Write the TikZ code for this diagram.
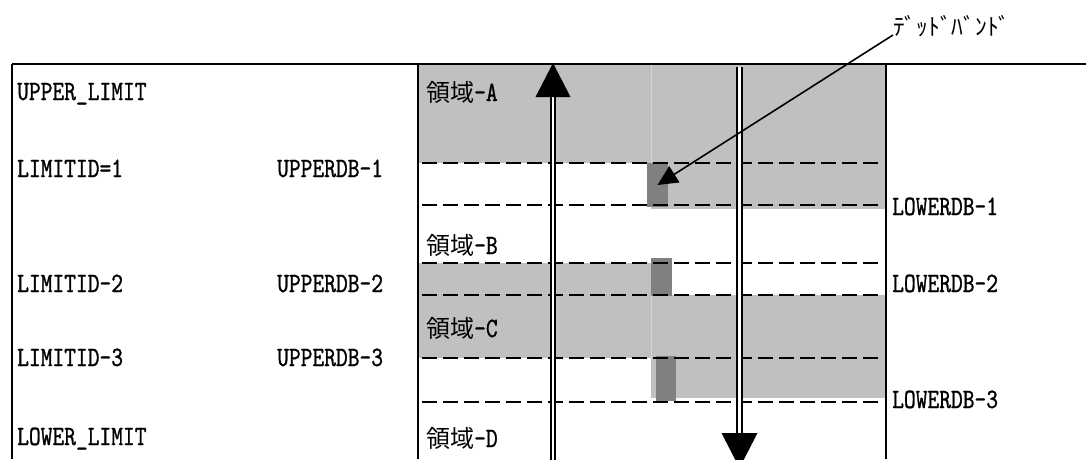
\documentclass[tikz,border=0pt]{standalone}
\usepackage{fontspec}
\usetikzlibrary{arrows.meta}
\newfontfamily\jp{Noto Sans CJK JP}
\newfontfamily\lmm{lmmono10-regular.otf}[FakeStretch=0.8,FakeBold=1]
\definecolor{areagray}{HTML}{C0C0C0}
\definecolor{dband}{HTML}{808080}
\definecolor{seam}{HTML}{D6D6D6}
\begin{document}
\begin{tikzpicture}[x=1pt,y=-1pt,
  lbl/.style={anchor=base west,inner sep=0pt,font=\lmm\fontsize{28}{30}\selectfont},
  jlbl/.style={anchor=base west,inner sep=0pt,font=\fontsize{24}{26}\selectfont},
  frame/.style={line width=1.8pt,black},
  dline/.style={line width=2pt,dash pattern=on 15pt off 6pt},
  dbl/.style={double distance=2.4pt,line width=2pt},
  dbrect/.style={fill=dband,inner sep=0pt,draw=none},
  ptr/.style={line width=1.6pt,-{Triangle[length=20pt,width=19pt]}},
  head/.style={fill=black}]
\useasboundingbox (0,0) rectangle (1086,459);
\clip (0,0) rectangle (1086,459);
% shaded regions
\fill[areagray] (418,64) rectangle (886,163);
\fill[areagray] (651,163) rectangle (886,209);
\fill[areagray] (418,263) rectangle (651,295);
\fill[areagray] (418,295) rectangle (886,358);
\fill[areagray] (651,358) rectangle (886,398);
\draw[seam,line width=0.8pt] (651,64) -- (651,163);
\draw[seam,line width=0.8pt] (651,295) -- (651,358);
% deadbands
\node[dbrect,minimum width=21pt,minimum height=44pt] (db1) at (657.5,185) {};
\node[dbrect,minimum width=21pt,minimum height=38pt] (db2) at (661.5,277) {};
\node[dbrect,minimum width=20pt,minimum height=45pt] (db3) at (666,378.5) {};
% dashed levels
\foreach \yy in {163,205,263,295,358,402}
  \draw[dline] (422,\yy) -- (883,\yy);
% frame
\draw[frame] (12,64) -- (1086,64);
\draw[frame] (12,64) -- (12,459);
\draw[frame] (418,64) -- (418,459);
\draw[frame] (886,64) -- (886,459);
% up arrow
\coordinate (upbot) at (553,462);
\coordinate (upbase) at (553,96);
\draw[dbl] (upbot) -- (upbase);
\fill[head] (553,63) -- (535.5,97) -- (570.5,97) -- cycle;
% down arrow
\coordinate (dntop) at (739.5,67);
\coordinate (dnbase) at (739.5,434);
\draw[dbl] (dntop) -- (dnbase);
\fill[head] (721.5,433) -- (757.5,433) -- (739.5,468) -- cycle;
% labels left
\node[lbl] (ul) at (17,100) {UPPER\_LIMIT};
\node[lbl] (l1) at (17,177) {LIMITID=1};
\node[lbl] (u1) at (277,177) {UPPERDB-1};
\node[lbl] (l2) at (17,292) {LIMITID-2};
\node[lbl] (u2) at (277,292) {UPPERDB-2};
\node[lbl] (l3) at (17,366) {LIMITID-3};
\node[lbl] (u3) at (277,366) {UPPERDB-3};
\node[lbl] (ll) at (17,445) {LOWER\_LIMIT};
% labels right
\node[lbl] (d1) at (892,215) {LOWERDB-1};
\node[lbl] (d2) at (892,292) {LOWERDB-2};
\node[lbl] (d3) at (892,408) {LOWERDB-3};
% regions
\node[jlbl] (ra) at (426,101) {{\jp 領域}{\lmm\fontsize{28}{30}\selectfont -A}};
\node[jlbl] (rb) at (426,254) {{\jp 領域}{\lmm\fontsize{28}{30}\selectfont -B}};
\node[jlbl] (rc) at (426,337) {{\jp 領域}{\lmm\fontsize{28}{30}\selectfont -C}};
\node[jlbl] (rd) at (426,447) {{\jp 領域}{\lmm\fontsize{28}{30}\selectfont -D}};
% dead band label and pointer
\node[jlbl,font=\jp\fontsize{23.5}{26}\selectfont] (dbt) at (893,35) {ﾃﾞｯﾄﾞﾊﾞﾝﾄﾞ};
\draw[ptr] (dbt.base west) -- (db1.center);
\end{tikzpicture}
\end{document}
